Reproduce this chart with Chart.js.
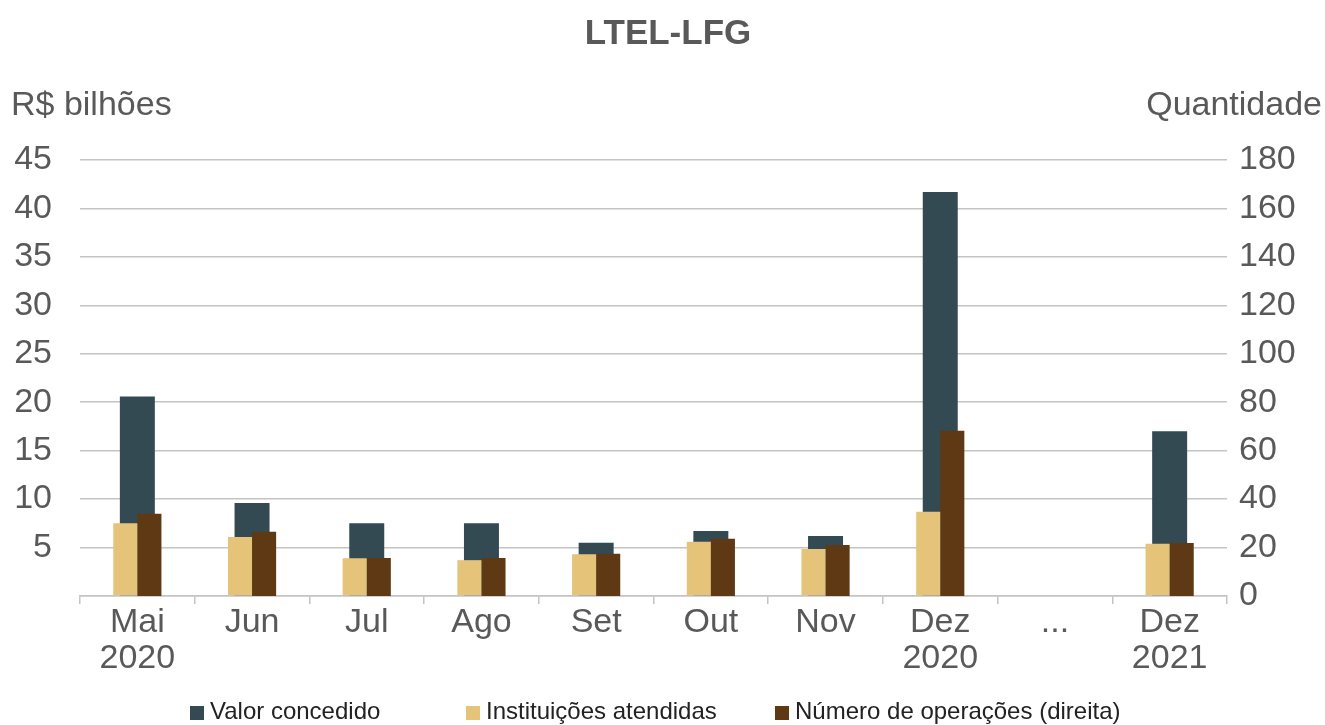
<!DOCTYPE html>
<html>
<head>
<meta charset="utf-8">
<title>LTEL-LFG</title>
<script src="https://cdn.jsdelivr.net/npm/chart.js@4.4.1/dist/chart.umd.min.js"></script>
<style>
    html, body { margin: 0; padding: 0; background: #fff; }
    #wrap { width: 1325px; height: 725px; }
</style>
</head>
<body>
<div id="wrap"><canvas id="chart" width="1325" height="725"></canvas></div>
<script>
// categorias (eixo x)
const meses = [['Mai', '2020'], 'Jun', 'Jul', 'Ago', 'Set', 'Out', 'Nov', ['Dez', '2020'], '...', ['Dez', '2021']];

// R$ bilhões (esquerda)
const valorConcedido = [20.6, 9.6, 7.5, 7.5, 5.5, 6.7, 6.2, 41.7, null, 17.0];
const instituicoes = [7.5, 6.1, 3.9, 3.7, 4.3, 5.6, 4.85, 8.7, null, 5.4];

// quantidade (direita)
const numeroOperacoes = [34, 26.5, 15.7, 15.7, 17.4, 23.6, 21.1, 68.2, null, 21.9];

const leftTicks = { min: 0, max: 45, step: 5 };
const rightTicks = { min: 0, max: 180, step: 20 };

const FONT = '"Liberation Sans", Arial, Helvetica, sans-serif';
const TEXT = '#595959';
const GRID = '#c4c4c4';

// titulo, rotulos dos eixos e legenda desenhados a mao
const extrasPlugin = {
    id: 'extras',
    afterDraw(chart) {
        const ctx = chart.ctx;
        ctx.save();
        ctx.fillStyle = TEXT;
        ctx.textBaseline = 'middle';

        ctx.font = 'bold 35px ' + FONT;
        ctx.textAlign = 'center';
        ctx.fillText('LTEL-LFG', 668, 34);

        ctx.font = '34px ' + FONT;
        ctx.textAlign = 'left';
        ctx.fillText('R$ bilhões', 11, 106);
        ctx.textAlign = 'right';
        ctx.fillText('Quantidade', 1322, 106);

        // legenda
        const xs = [190, 466, 775];
        ctx.font = '24px ' + FONT;
        ctx.textAlign = 'left';
        [0, 1, 2].forEach((di, i) => {
            const ds = chart.data.datasets[di];
            ctx.fillStyle = ds.backgroundColor;
            ctx.fillRect(xs[i], 706, 14, 14);
            ctx.fillStyle = '#222';
            ctx.fillText(ds.label, xs[i] + 20, 712);
        });
        ctx.restore();
    }
};

const ctx = document.getElementById('chart').getContext('2d');
new Chart(ctx, {
    type: 'bar',
    data: {
        labels: meses,
        datasets: [
            {
                label: 'Valor concedido',
                data: valorConcedido,
                backgroundColor: '#344a53',
                yAxisID: 'y',
                grouped: false,
                order: 3,
                categoryPercentage: 1,
                barPercentage: 0.305
            },
            {
                label: 'Instituições atendidas',
                data: instituicoes,
                backgroundColor: '#e5c479',
                yAxisID: 'y',
                order: 1,
                categoryPercentage: 0.42,
                barPercentage: 1
            },
            {
                label: 'Número de operações (direita)',
                data: numeroOperacoes,
                backgroundColor: '#5f3914',
                yAxisID: 'y1',
                order: 2,
                categoryPercentage: 0.42,
                barPercentage: 1
            }
        ]
    },
    options: {
        responsive: false,
        animation: false,
        devicePixelRatio: 1,
        layout: { padding: { top: 160, left: 0, right: 0, bottom: 39 } },
        plugins: {
            legend: { display: false },
            title: { display: false },
            tooltip: { enabled: false }
        },
        scales: {
            x: {
                offset: true,
                afterFit: (s) => { s.height = 90; },
                grid: {
                    offset: true,
                    drawOnChartArea: false,
                    drawTicks: true,
                    tickLength: 8,
                    color: GRID,
                    lineWidth: 1.5
                },
                border: { color: GRID, width: 1.5 },
                ticks: {
                    color: TEXT,
                    padding: 0,
                    maxRotation: 0,
                    autoSkip: false,
                    font: { family: FONT, size: 34, lineHeight: 1.08 }
                }
            },
            y: {
                position: 'left',
                min: leftTicks.min,
                max: leftTicks.max,
                afterFit: (s) => { s.width = 80; },
                grid: { color: GRID, lineWidth: 1.5, drawTicks: false },
                border: { display: false },
                ticks: {
                    stepSize: leftTicks.step,
                    color: TEXT,
                    padding: 28,
                    font: { family: FONT, size: 34 },
                    callback: (v) => (v === 0 ? '' : v)
                }
            },
            y1: {
                position: 'right',
                min: rightTicks.min,
                max: rightTicks.max,
                afterFit: (s) => { s.width = 98; },
                grid: { display: false, drawTicks: false },
                border: { display: false },
                ticks: {
                    stepSize: rightTicks.step,
                    color: TEXT,
                    padding: 12,
                    font: { family: FONT, size: 34 }
                }
            }
        }
    },
    plugins: [extrasPlugin]
});
</script>
</body>
</html>
